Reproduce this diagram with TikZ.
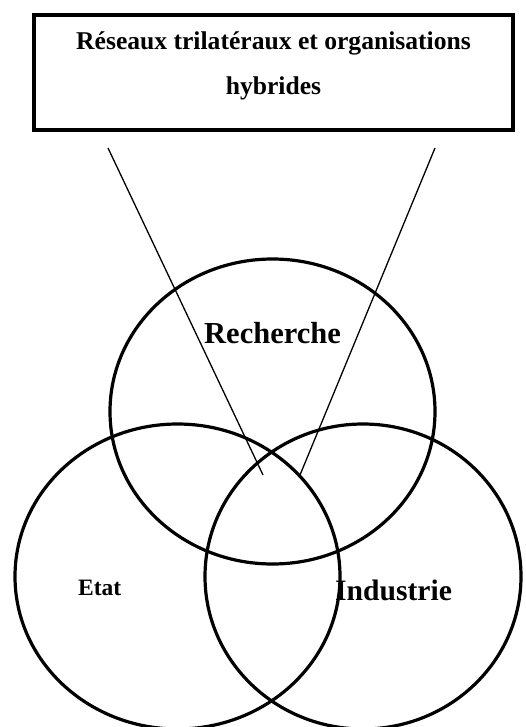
\documentclass[tikz,border=0pt]{standalone}
\usepackage{fontspec}
\setmainfont{Liberation Serif}
\usetikzlibrary{shapes.geometric}
\tikzset{
  titlebox/.style={draw, line width=4pt, rectangle, inner sep=0pt, minimum width=479pt, minimum height=115.5pt},
  venn/.style={draw, line width=3.2pt, ellipse, inner sep=0pt},
  link/.style={draw, line width=1.3pt},
  lbl/.style={inner sep=0pt, anchor=base west, font=\bfseries}
}
\begin{document}
\begin{tikzpicture}[x=1pt,y=-1pt]
\useasboundingbox (0,0) rectangle (526,727);
\node[titlebox] (box) at (273.7,72.4) {};
\node[inner sep=0pt, anchor=base, font=\bfseries\fontsize{25.6}{45}\selectfont] (title) at (273.5,50)
  {\begin{tabular}[t]{@{}c@{}}Réseaux trilatéraux et organisations\\ hybrides\end{tabular}};
\node[venn, minimum width=325pt, minimum height=305pt] (rech) at (272.5,411.5) {};
\node[venn, minimum width=325pt, minimum height=305pt] (etat) at (177.5,576.5) {};
\node[venn, minimum width=316pt, minimum height=305pt] (indu) at (363,576.5) {};
\node[lbl, font=\bfseries\fontsize{30.5}{36}\selectfont] (trech) at (204,343) {Recherche};
\node[lbl, font=\bfseries\fontsize{23.5}{28}\selectfont] (tetat) at (78,595) {Etat};
\node[lbl, font=\bfseries\fontsize{29.6}{36}\selectfont] (tindu) at (335,600) {Industrie};
\coordinate (a1) at (108,148);
\coordinate (a2) at (263,475);
\coordinate (b1) at (435,148);
\coordinate (b2) at (300,475);
\draw[link] (a1) -- (a2);
\draw[link] (b1) -- (b2);
\end{tikzpicture}
\end{document}
